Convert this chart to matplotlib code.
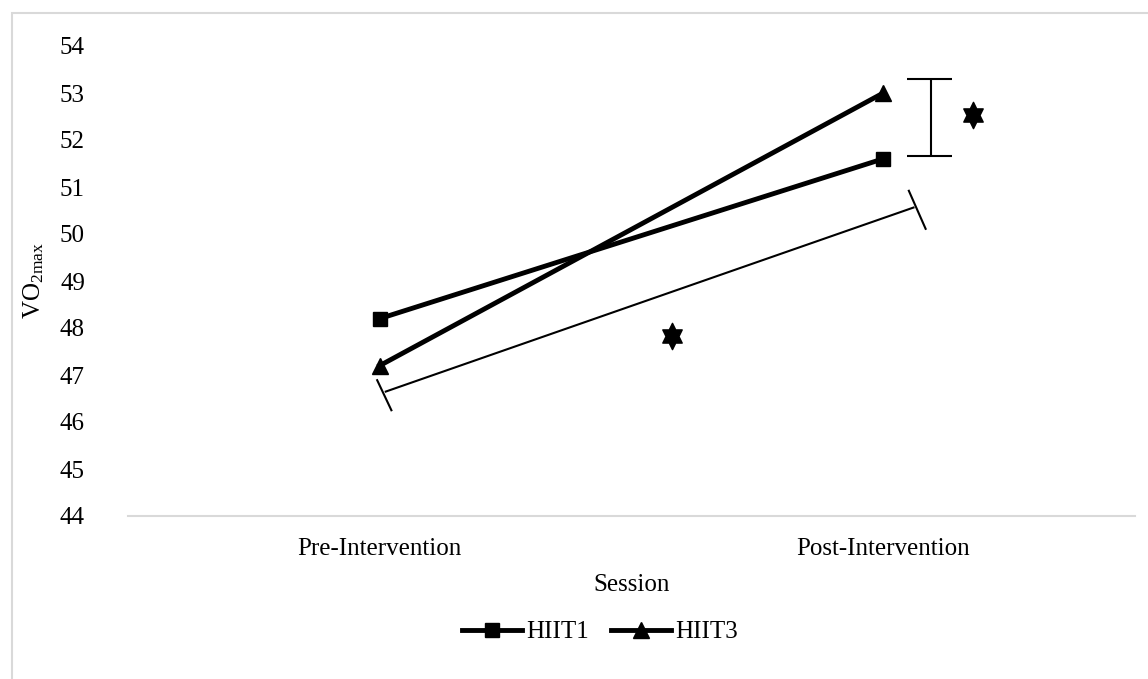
import numpy as np
import matplotlib.pyplot as plt
from matplotlib.path import Path
from matplotlib.patches import Rectangle

plt.rcParams['font.family'] = 'Liberation Serif'
plt.rcParams['mathtext.fontset'] = 'custom'
plt.rcParams['mathtext.rm'] = 'Liberation Serif'
plt.rcParams['mathtext.it'] = 'Liberation Serif:italic'

sessions = ["Pre-Intervention", "Post-Intervention"]
hiit1 = [48.2, 51.6]
hiit3 = [47.2, 53.0]
y_ticks = [44, 45, 46, 47, 48, 49, 50, 51, 52, 53, 54]

# six-pointed star used for significance marks
ang = np.deg2rad(90 + np.arange(12) * 30)
rad = np.where(np.arange(12) % 2 == 0, 1.0, 0.577)
verts = np.column_stack([0.85 * rad * np.cos(ang), rad * np.sin(ang)])
verts = np.vstack([verts, verts[:1]])
star = Path(verts, closed=True)

fs = 18
fig = plt.figure(figsize=(11.48, 6.79), dpi=100)
W, H = 1148, 679
ax = fig.add_axes([128 / W, 1 - 516 / H, (1135 - 128) / W, (516 - 46) / H])

x = np.arange(len(sessions))
ax.plot(x, hiit1, color='black', lw=3.5, marker='s', ms=10, label='HIIT1')
ax.plot(x, hiit3, color='black', lw=3.5, marker='^', ms=11, label='HIIT3')

ax.set_xlim(-0.5, 1.5)
ax.set_ylim(44, 54)
ax.set_yticks(y_ticks)
ax.set_xticks(x)
ax.set_xticklabels(sessions)
ax.tick_params(axis='y', length=0, pad=31, labelsize=fs)
ax.tick_params(axis='x', length=0, pad=16, labelsize=fs)
for s in ['left', 'right', 'top']:
    ax.spines[s].set_visible(False)
ax.spines['bottom'].set_color('#d9d9d9')
ax.spines['bottom'].set_linewidth(1.5)

ax.set_xlabel('Session', fontsize=fs, labelpad=10)
ax.set_ylabel(r'VO$_{\mathrm{2max}}$', fontsize=fs, labelpad=10)

# bracket between groups at post-intervention
kw = dict(color='black', lw=1.5, clip_on=False, solid_capstyle='butt')
ax.plot([1.095, 1.095], [51.66, 53.30], **kw)
ax.plot([1.048, 1.137], [53.30, 53.30], **kw)
ax.plot([1.048, 1.137], [51.66, 51.66], **kw)
ax.plot([1.179], [52.53], marker=star, ms=19, color='black', clip_on=False, ls='none')

# bracket for time effect
ax.plot([0.010, 1.062], [46.64, 50.57], **kw)
ax.plot([-0.006, 0.024], [46.91, 46.23], **kw)
ax.plot([1.050, 1.085], [50.94, 50.09], **kw)
ax.plot([0.580], [47.83], marker=star, ms=19, color='black', ls='none')

fig.legend(loc='center', bbox_to_anchor=(600 / W, 1 - 632 / H), ncol=2,
           frameon=False, fontsize=fs, handlelength=2.4, handletextpad=0.15,
           columnspacing=0.9)

fig.patches.append(Rectangle((12 / W, -0.1), 1.2, 1 - 13 / H + 0.1,
                             transform=fig.transFigure, fill=False,
                             edgecolor='#d9d9d9', lw=1.5))

fig.savefig('out.png', dpi=100)
